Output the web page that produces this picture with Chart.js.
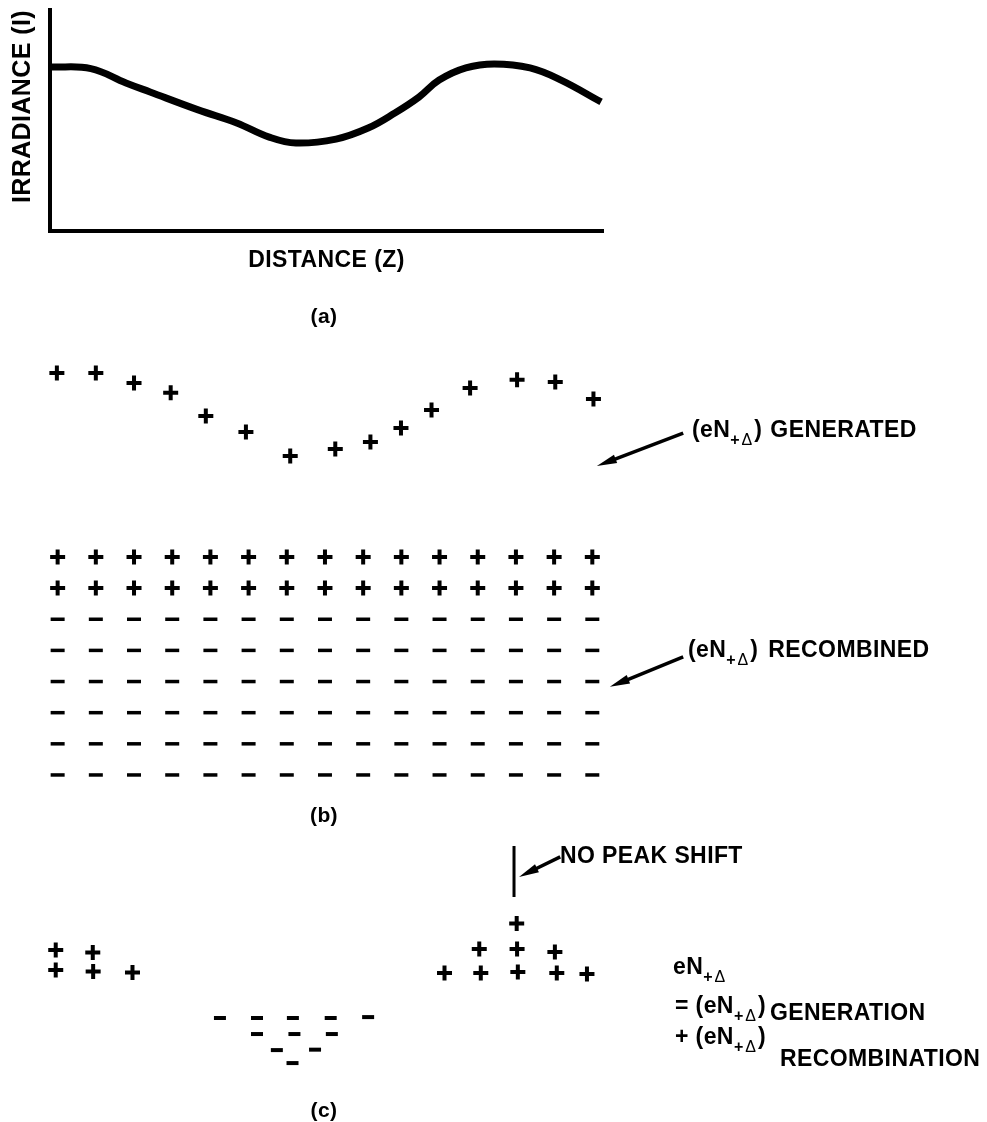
<!DOCTYPE html>
<html>
<head>
<meta charset="utf-8">
<script src="https://cdn.jsdelivr.net/npm/chart.js@4.4.1/dist/chart.umd.min.js"></script>
<style>
  html, body { margin: 0; padding: 0; background: #fff; }
  #page { position: relative; width: 987px; height: 1122px; overflow: hidden; }
  #page canvas { position: absolute; left: 0; top: 0; }
  .t { position: absolute; font-family: "Liberation Sans", Arial, sans-serif; font-weight: bold;
       font-size: 23px; line-height: 23px; letter-spacing: 0.4px; color: #000; white-space: nowrap; }
  .t .s { position: relative; top: 8px; font-size: 16px; letter-spacing: 2px; }
  .t .s i { font-style: normal; font-weight: normal; }
  .lbl { position: absolute; width: 60px; text-align: center; font-family: "Liberation Sans", Arial, sans-serif;
         font-weight: bold; font-size: 21px; line-height: 21px; letter-spacing: 0.4px; }
</style>
</head>
<body>
<div id="page">
  <canvas id="chartA" width="987" height="1122"></canvas>
  <canvas id="chartB" width="987" height="1122"></canvas>
  <canvas id="chartC" width="987" height="1122"></canvas>

  <div class="lbl" style="left:294px; top:305px;">(a)</div>
  <div class="lbl" style="left:294px; top:804px;">(b)</div>
  <div class="lbl" style="left:294px; top:1099px;">(c)</div>

  <div class="t" style="left:692px; top:418px;">(eN<span class="s">+<i>Δ</i></span>)<span style="margin-left:8px;">GENERATED</span></div>
  <div class="t" style="left:688px; top:638px;">(eN<span class="s">+<i>Δ</i></span>)<span style="margin-left:10px;">RECOMBINED</span></div>
  <div class="t" style="left:560px; top:844px;">NO PEAK SHIFT</div>

  <div class="t" style="left:673px; top:955px;">eN<span class="s">+<i>Δ</i></span></div>
  <div class="t" style="left:675px; top:994px;">= (eN<span class="s">+<i>Δ</i></span>)<span style="position:relative; top:7px; margin-left:4px;">GENERATION</span></div>
  <div class="t" style="left:675px; top:1025px;">+ (eN<span class="s">+<i>Δ</i></span>)</div>
  <div class="t" style="left:780px; top:1047px;">RECOMBINATION</div>
</div>

<script>
// distance along z, in grid-column units (column 0 .. 14)
const zMin = -0.2;
const zMax = 14.28;

// (a) irradiance profile, relative units
const curveZ = [-0.20, 0.87, 1.79, 2.42, 3.68, 4.69, 5.54, 6.24, 7.29, 8.13, 8.83, 9.46, 9.99, 10.69, 11.43, 12.37, 13.18, 14.23];
const curveI = [0.742, 0.735, 0.670, 0.629, 0.548, 0.489, 0.425, 0.398, 0.416, 0.466, 0.534, 0.606, 0.683, 0.738, 0.756, 0.738, 0.683, 0.584];

// (b) generated charges (row level) and the uniform lattice
const genZ = [-0.02, 1.00, 2.00, 2.96, 3.88, 4.93, 6.09, 7.27, 8.19, 8.99, 9.79, 10.80, 12.03, 13.03, 14.03];
const genLevel = [12.91, 12.91, 12.59, 12.27, 11.53, 11.01, 10.24, 10.47, 10.69, 11.14, 11.72, 12.43, 12.69, 12.62, 12.07];
const latticeCols = [0, 1, 2, 3, 4, 5, 6, 7, 8, 9, 10, 11, 12, 13, 14];
const plusRows = [7, 6];
const minusRows = [5, 4, 3, 2, 1, 0];

// (c) net charge after recombination
const netPlusZ = [-0.05, -0.05, 0.92, 0.93, 1.96, 12.02, 11.04, 12.03, 13.02, 10.13, 11.08, 12.05, 13.07, 13.86];
const netPlusLevel = [2.00, 1.09, 1.89, 1.02, 0.98, 3.20, 2.05, 2.05, 1.91, 0.95, 0.95, 1.00, 0.95, 0.91];
const netMinusZ = [4.25, 5.22, 6.16, 7.15, 8.13, 5.22, 6.20, 7.18, 5.74, 6.74, 6.15];
const netMinusLevel = [-1.09, -1.09, -1.09, -1.09, -1.05, -1.82, -1.82, -1.82, -2.55, -2.53, -3.14];
const peakZ = [11.95, 11.95];
const peakLevel = [6.73, 4.41];

// annotation arrows, [z, level] from tail to tip
const genArrow = { from: [16.38, 10.98], to: [14.12, 9.92] };
const recArrow = { from: [16.38, 3.79], to: [14.46, 2.83] };
const peakArrow = { from: [13.16, 6.23], to: [12.08, 5.32] };

const FONT = '"Liberation Sans", Arial, sans-serif';
const pts = (xs, ys) => xs.map((x, i) => ({ x: x, y: ys[i] }));

const lattice = (rows) => {
  const out = [];
  rows.forEach(r => latticeCols.forEach(c => out.push({ x: c, y: r })));
  return out;
};

const arrowPlugin = {
  id: 'arrows',
  afterDatasetsDraw(chart, args, opts) {
    const { ctx } = chart;
    const xs = chart.scales.x, ys = chart.scales.y;
    (opts.items || []).forEach(a => {
      const x1 = xs.getPixelForValue(a.from[0]), y1 = ys.getPixelForValue(a.from[1]);
      const x2 = xs.getPixelForValue(a.to[0]), y2 = ys.getPixelForValue(a.to[1]);
      const ang = Math.atan2(y2 - y1, x2 - x1);
      const len = 20, half = 4.5;
      const bx = x2 - Math.cos(ang) * len, by = y2 - Math.sin(ang) * len;
      ctx.save();
      ctx.strokeStyle = '#000';
      ctx.fillStyle = '#000';
      ctx.lineWidth = 3.5;
      ctx.beginPath();
      ctx.moveTo(x1, y1);
      ctx.lineTo(bx + Math.cos(ang) * 4, by + Math.sin(ang) * 4);
      ctx.stroke();
      ctx.beginPath();
      ctx.moveTo(x2, y2);
      ctx.lineTo(bx - Math.sin(ang) * half, by + Math.cos(ang) * half);
      ctx.lineTo(bx + Math.sin(ang) * half, by - Math.cos(ang) * half);
      ctx.closePath();
      ctx.fill();
      ctx.restore();
    });
  }
};

const spacingPlugin = {
  id: 'spacing',
  beforeDraw(chart) { chart.ctx.letterSpacing = '0.4px'; }
};

const hiddenScales = (yMin, yMax) => ({
  x: { type: 'linear', min: zMin, max: zMax, display: false },
  y: { type: 'linear', min: yMin, max: yMax, display: false }
});

const common = {
  responsive: false,
  animation: false,
  events: [],
  plugins: { legend: { display: false }, tooltip: { enabled: false } }
};

// (a) irradiance vs distance
new Chart(document.getElementById('chartA'), {
  type: 'line',
  data: {
    datasets: [{
      data: pts(curveZ, curveI),
      borderColor: '#000',
      borderWidth: 7,
      pointRadius: 0,
      tension: 0.4,
      fill: false
    }]
  },
  options: {
    ...common,
    layout: { padding: { left: 0, top: 10, right: 384, bottom: 831 } },
    scales: {
      x: {
        type: 'linear', min: zMin, max: zMax,
        grid: { display: false }, ticks: { display: false },
        border: { display: true, color: '#000', width: 4 },
        title: { display: true, text: 'DISTANCE (Z)', color: '#000',
                 font: { family: FONT, size: 23, weight: 'bold' }, padding: { top: 0, bottom: 16.5 } },
        afterFit(s) { s.height = 60; }
      },
      y: {
        type: 'linear', min: 0, max: 1,
        grid: { display: false }, ticks: { display: false },
        border: { display: true, color: '#000', width: 4 },
        title: { display: true, text: 'IRRADIANCE (I)', color: '#000', align: 'end',
                 font: { family: FONT, size: 25, weight: 'bold' }, padding: { top: 8, bottom: 0 } },
        afterFit(s) { s.width = 50; }
      }
    }
  },
  plugins: [spacingPlugin]
});

// (b) generated and recombined charges
new Chart(document.getElementById('chartB'), {
  type: 'scatter',
  data: {
    datasets: [
      { data: pts(genZ, genLevel), pointStyle: 'cross', pointRadius: 7.5, borderWidth: 4, borderColor: '#000', clip: false },
      { data: lattice(plusRows), pointStyle: 'cross', pointRadius: 7.5, borderWidth: 4, borderColor: '#000', clip: false },
      { data: lattice(minusRows), pointStyle: 'line', pointRadius: 7, borderWidth: 3.5, borderColor: '#000', clip: false }
    ]
  },
  options: {
    ...common,
    layout: { padding: { left: 50, top: 339, right: 384, bottom: 315.9 } },
    scales: hiddenScales(-1, 14),
    plugins: { ...common.plugins, arrows: { items: [genArrow, recArrow] } }
  },
  plugins: [arrowPlugin]
});

// (c) net charge distribution
new Chart(document.getElementById('chartC'), {
  type: 'scatter',
  data: {
    datasets: [
      { data: pts(netPlusZ, netPlusLevel), pointStyle: 'cross', pointRadius: 7.5, borderWidth: 4, borderColor: '#000', clip: false },
      { data: pts(netMinusZ, netMinusLevel), pointStyle: 'line', pointRadius: 6, borderWidth: 4, borderColor: '#000', clip: false },
      { type: 'line', data: pts(peakZ, peakLevel), borderColor: '#000', borderWidth: 3, pointRadius: 0, clip: false }
    ]
  },
  options: {
    ...common,
    layout: { padding: { left: 50, top: 829, right: 384, bottom: 29 } },
    scales: hiddenScales(-4.5, 7.5),
    plugins: { ...common.plugins, arrows: { items: [peakArrow] } }
  },
  plugins: [arrowPlugin]
});
</script>
</body>
</html>
